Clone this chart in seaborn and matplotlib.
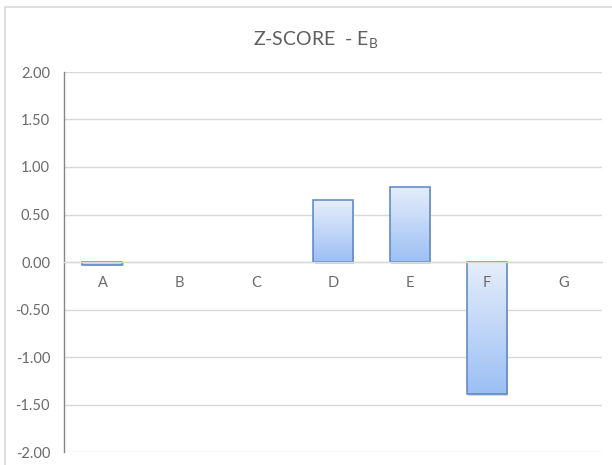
import numpy as np
import pandas as pd
import matplotlib
matplotlib.use("Agg")
import matplotlib.pyplot as plt
import seaborn as sns
from matplotlib.colors import LinearSegmentedColormap
from matplotlib.patches import Rectangle
from matplotlib.lines import Line2D
from matplotlib.transforms import offset_copy

# valores (B, C e G sem barra)
categorias = ["A", "B", "C", "D", "E", "F", "G"]
zscore = [-0.03, np.nan, np.nan, 0.65, 0.79, -1.39, np.nan]
yticks = [-2.0, -1.5, -1.0, -0.5, 0.0, 0.5, 1.0, 1.5, 2.0]
titulo = "Z-SCORE  - $E_B$"

sns.set_style("white")
plt.rcParams["font.family"] = ["Lato", "DejaVu Sans"]
plt.rcParams["mathtext.default"] = "regular"

cinza_texto = "#6A6A6A"
cinza_grade = "#D9D9D9"

df = pd.DataFrame({"Categoria": categorias, "Z": zscore})

fig = plt.figure(figsize=(6.12, 4.65), dpi=100)
ax = fig.add_axes([64 / 612, 1 - 452 / 465, (602 - 64) / 612, (452 - 72) / 465])

sns.barplot(data=df, x="Categoria", y="Z", order=categorias, errorbar=None,
            width=0.52, color="#B7D0F5", edgecolor="#5A84C2", linewidth=1.1,
            ax=ax, zorder=2)

# degrade em cada barra (claro em cima, mais escuro embaixo)
cmap = LinearSegmentedColormap.from_list("barra", ["#E6EEFB", "#9CBFF4"])
grad = np.linspace(0, 1, 256).reshape(-1, 1)
for p in ax.patches:
    h = p.get_height()
    if not np.isfinite(h) or h == 0:
        continue
    x0, y0, w = p.get_x(), p.get_y(), p.get_width()
    base, topo = min(y0, y0 + h), max(y0, y0 + h)
    im = ax.imshow(grad, cmap=cmap, aspect="auto", origin="upper",
                   extent=[x0, x0 + w, base, topo], zorder=1.9)
    im.set_clip_path(p)
    sombra = Rectangle((x0, base), w, topo - base,
                       transform=offset_copy(ax.transData, fig, x=1.5, y=-1.5, units="dots"),
                       facecolor="#B0B0B0", edgecolor="none", alpha=0.5, zorder=1.5)
    ax.add_patch(sombra)
    p.set_facecolor("none")

ax.set_xlim(-0.5, len(categorias) - 0.5)
ax.set_ylim(-2.0, 2.0)
ax.set_yticks(yticks)
ax.set_yticklabels([f"{v:.2f}" for v in yticks])
ax.set_xlabel("")
ax.set_ylabel("")

for v in yticks:
    ax.axhline(v, color=cinza_grade, linewidth=1.0, zorder=0.5)

ax.set_axisbelow(False)
for lado in ["top", "right"]:
    ax.spines[lado].set_visible(False)
ax.spines["bottom"].set_position(("data", 0))
ax.spines["bottom"].set_color(cinza_grade)
ax.spines["bottom"].set_linewidth(1.0)
ax.spines["left"].set_color("#868686")
ax.spines["left"].set_linewidth(1.0)

ax.tick_params(axis="x", length=0, pad=10, labelsize=10.5, labelcolor=cinza_texto)
ax.tick_params(axis="y", length=0, pad=10, labelsize=10.5, labelcolor=cinza_texto)

fig.text(316 / 612, 1 - 40 / 465, titulo, ha="center", va="center",
         fontsize=14, color="#5E5E5E")

# moldura da area do grafico: so as bordas de cima e da esquerda aparecem
mx, my = 5 / 612, 1 - 7 / 465
fig.add_artist(Line2D([mx, mx, 1.0], [0.0, my, my], transform=fig.transFigure,
                      color=cinza_grade, linewidth=1.2))

fig.savefig("out.png", dpi=100)
